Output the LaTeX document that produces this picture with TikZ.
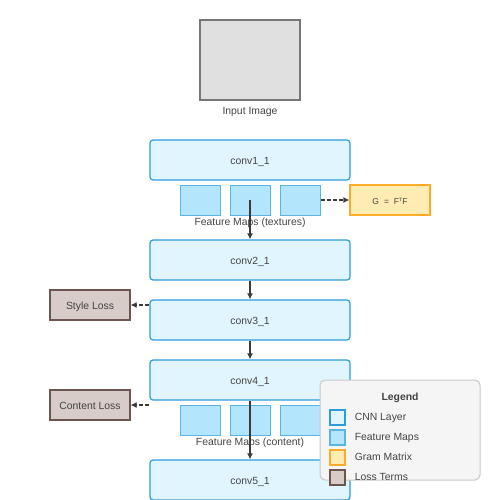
\documentclass[tikz,border=0pt]{standalone}
\usepackage{fontspec}
\setmainfont{Liberation Sans}
\newfontfamily\dejavu{DejaVu Sans}
\usetikzlibrary{arrows.meta}
\usetikzlibrary{positioning}

\definecolor{layerfill}{HTML}{E1F5FE}
\definecolor{layerdraw}{HTML}{2D9CDB}
\definecolor{mapfill}{HTML}{B3E5FC}
\definecolor{mapdraw}{HTML}{5AB4E5}
\definecolor{gramfill}{HTML}{FFECB3}
\definecolor{gramdraw}{HTML}{FFAA2A}
\definecolor{lossfill}{HTML}{D7CCC8}
\definecolor{lossdraw}{HTML}{6D5550}
\definecolor{imgfill}{HTML}{E0E0E0}
\definecolor{imgdraw}{HTML}{777777}
\definecolor{keyfill}{HTML}{F5F5F5}
\definecolor{keydraw}{HTML}{C8C8C8}
\definecolor{txt}{HTML}{444444}

\begin{document}
\begin{tikzpicture}[
  x=1pt,y=-1pt,
  font=\fontsize{10.4}{12}\selectfont,
  every node/.style={text=txt,align=center,text height=9.4pt,text depth=0pt},
  image/.style={draw=imgdraw,fill=imgfill,line width=1.2pt,minimum width=100pt,minimum height=80pt},
  layer/.style={draw=layerdraw,fill=layerfill,line width=1.2pt,rounded corners=3pt,minimum width=200pt,minimum height=40pt},
  fmap/.style={draw=mapdraw,fill=mapfill,line width=1pt,minimum width=40pt,minimum height=30pt},
  gram/.style={draw=gramdraw,fill=gramfill,line width=1.2pt,minimum width=80pt,minimum height=30pt,font=\fontsize{8.5}{10}\selectfont},
  loss/.style={draw=lossdraw,fill=lossfill,line width=1.2pt,minimum width=80pt,minimum height=30pt},
  legendbox/.style={draw=keydraw,fill=keyfill,line width=1pt,rounded corners=5pt,minimum width=160pt,minimum height=100pt},
  keybox/.style={line width=1.2pt,minimum size=15pt,inner sep=0pt},
  to/.style={-{Latex[length=6pt,width=6pt]},line width=1.2pt,draw=txt!85!black},
  dashto/.style={to,dashed,dash pattern=on 4pt off 2pt}]

  \useasboundingbox (0,0) rectangle (500,500);

  % Input image
  \node[image] (input) at (250,60) {};
  \node (inputlabel) at (250,110) {Input Image};

  % The layers of the network
  \node[layer] (conv1) at (250,160) {conv1\_1};
  \node[layer] (conv2) at (250,260) {conv2\_1};
  \node[layer] (conv3) at (250,320) {conv3\_1};
  \node[layer] (conv4) at (250,380) {conv4\_1};
  \node[layer] (conv5) at (250,480) {conv5\_1};

  % Feature maps below conv1_1 and conv4_1
  \foreach \i/\x in {1/200,2/250,3/300} {
    \node[fmap] (fma\i) at (\x,200) {};
    \node[fmap] (fmb\i) at (\x,420) {};
  }
  \node (fmalabel) at (250,220.5) {Feature Maps (textures)};
  \node (fmblabel) at (250,440.5) {Feature Maps (content)};

  % Gram matrix and loss terms
  \node[gram] (gram) at (390,200) {G\hspace{5pt}=\hspace{5pt}F{\dejavu ᵀ}F};
  \node[loss] (style) at (90,305) {Style Loss};
  \node[loss] (content) at (90,405) {Content Loss};

  % Arrows between the nodes
  \draw[to] (fma2.center) -- (conv2);
  \draw[to] (conv2) -- (conv3);
  \draw[to] (conv3) -- (conv4);
  \draw[to] (conv4) -- (conv5);
  \draw[dashto] (fma3) -- (gram);
  \draw[dashto] (conv3.west |- style) -- (style);
  \draw[dashto] (conv4.west |- content) -- (content);

  % Legend
  \node[legendbox] (legend) at (400,430) {};
  \node[font=\fontsize{10.4}{12}\selectfont\bfseries] (legendtitle) at (400,395.5) {Legend};
  \foreach \n/\y/\c/\t in {cnn/417.5/layer/CNN Layer,map/437.5/map/Feature Maps,gram/457.5/gram/Gram Matrix,loss/477.5/loss/Loss Terms} {
    \node[keybox,draw=\c draw,fill=\c fill] (key\n) at (337.5,\y) {};
    \node[right=9pt of key\n,inner sep=0pt,yshift=1.5pt] (key\n label) {\t};
  }
\end{tikzpicture}
\end{document}
